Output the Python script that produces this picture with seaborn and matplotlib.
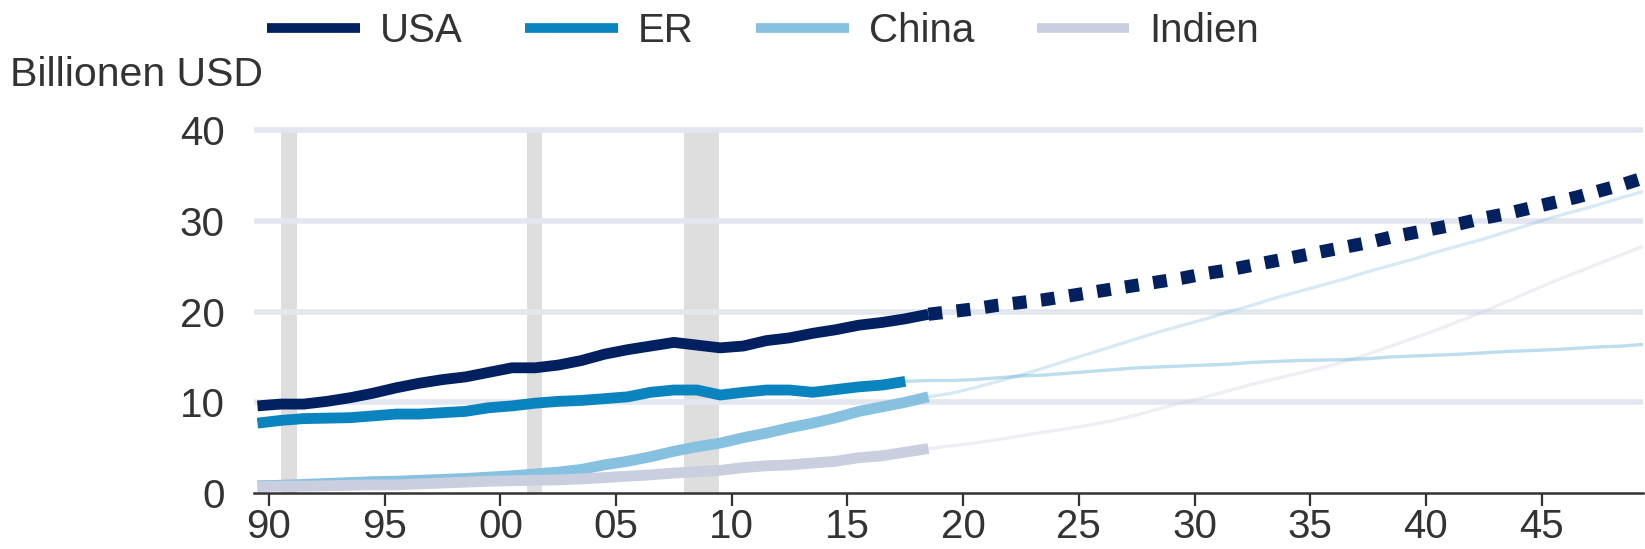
import numpy as np
import pandas as pd
import seaborn as sns
import matplotlib.pyplot as plt
from matplotlib.lines import Line2D

# history, annual values plotted mid-year
hist_years = list(range(1989, 2019))
usa = [9.6, 9.8, 9.8, 10.1, 10.5, 11.0, 11.6, 12.1, 12.5, 12.8,
       13.3, 13.8, 13.8, 14.1, 14.6, 15.3, 15.8, 16.2, 16.6, 16.3,
       16.0, 16.2, 16.8, 17.1, 17.6, 18.0, 18.5, 18.8, 19.2, 19.7]
er = [7.7, 8.0, 8.2, 8.25, 8.3, 8.5, 8.7, 8.7, 8.85, 9.0,
      9.4, 9.6, 9.9, 10.1, 10.2, 10.4, 10.6, 11.1, 11.35, 11.35,
      10.8, 11.1, 11.35, 11.35, 11.1, 11.4, 11.7, 11.9, 12.3]
china = [0.8, 0.85, 0.95, 1.05, 1.15, 1.25, 1.3, 1.4, 1.5, 1.6,
         1.75, 1.9, 2.1, 2.3, 2.6, 3.1, 3.5, 4.0, 4.6, 5.1,
         5.5, 6.1, 6.6, 7.2, 7.7, 8.3, 9.0, 9.5, 10.0, 10.6]
indien = [0.7, 0.75, 0.75, 0.8, 0.85, 0.9, 0.9, 1.0, 1.1, 1.2,
          1.3, 1.35, 1.4, 1.45, 1.55, 1.7, 1.85, 2.0, 2.2, 2.35,
          2.5, 2.8, 3.0, 3.1, 3.3, 3.5, 3.9, 4.1, 4.5, 4.9]

# projections
proj_years = list(range(2018, 2050))
usa_proj = [19.7, 20.0, 20.3, 20.7, 21.0, 21.3, 21.7, 22.1, 22.5, 22.9,
            23.3, 23.7, 24.2, 24.6, 25.1, 25.6, 26.1, 26.6, 27.1, 27.6,
            28.2, 28.7, 29.2, 29.7, 30.3, 30.8, 31.4, 32.0, 32.6, 33.3,
            34.0, 34.8]
er_proj_years = list(range(2017, 2050))
er_proj = [12.3, 12.4, 12.4, 12.5, 12.7, 12.9, 13.0, 13.2, 13.4, 13.6,
           13.8, 13.9, 14.0, 14.1, 14.2, 14.4, 14.5, 14.6, 14.65, 14.7,
           14.8, 15.0, 15.1, 15.2, 15.3, 15.45, 15.6, 15.7, 15.8, 15.95,
           16.1, 16.2, 16.4]
china_proj = [10.6, 11.0, 11.6, 12.3, 13.0, 13.8, 14.6, 15.4, 16.2, 17.0,
              17.8, 18.5, 19.2, 20.0, 20.7, 21.5, 22.2, 22.9, 23.6, 24.4,
              25.1, 25.8, 26.6, 27.3, 28.0, 28.8, 29.6, 30.4, 31.1, 31.8,
              32.6, 33.3]
indien_proj = [4.9, 5.2, 5.5, 5.9, 6.3, 6.7, 7.1, 7.5, 8.0, 8.6,
               9.3, 10.0, 10.6, 11.3, 12.0, 12.6, 13.2, 13.8, 14.5, 15.3,
               16.2, 17.1, 18.0, 19.0, 20.0, 21.1, 22.2, 23.3, 24.3, 25.3,
               26.3, 27.3]

recessions = [(1990.5, 1991.2), (2001.15, 2001.8), (2007.95, 2009.45)]
names = ["USA", "ER", "China", "Indien"]
colors = {"USA": "#002060", "ER": "#0A84BF", "China": "#86C1DF", "Indien": "#CACFDF"}
x_ticks = list(range(1990, 2050, 5))
x_labels = ["90", "95", "00", "05", "10", "15", "20", "25", "30", "35", "40", "45"]
y_ticks = [0, 10, 20, 30, 40]

sns.set_theme(style="white")
plt.rcParams['font.family'] = ['Liberation Sans', 'DejaVu Sans']
txt = "#333333"

fig = plt.figure(figsize=(16.45, 5.49), dpi=100)
ax = fig.add_axes([0.1544, 0.102, 0.8446, 0.666])

# recession shading
for a, b in recessions:
    ax.fill_between([a, b], 0, 40, color="#DEDEDE", lw=0, zorder=0)

# grid lines
for y in y_ticks[1:]:
    ax.axhline(y, color="#E2E6EE", lw=4, zorder=0.5)

hist = {"USA": usa, "ER": er, "China": china, "Indien": indien}
proj = {"ER": (er_proj_years, er_proj), "China": (proj_years, china_proj),
        "Indien": (proj_years, indien_proj)}
alphas = {"ER": 0.27, "China": 0.33, "Indien": 0.33}

# faint projections
for n in ["Indien", "China", "ER"]:
    yrs, vals = proj[n]
    df = pd.DataFrame({"x": np.array(yrs) + 0.5, "y": vals})
    sns.lineplot(data=df, x="x", y="y", ax=ax, color=colors[n], lw=2.4,
                 alpha=alphas[n], zorder=2)

# history lines
for n in ["China", "Indien", "ER", "USA"]:
    vals = hist[n]
    df = pd.DataFrame({"x": np.array(hist_years[:len(vals)]) + 0.5, "y": vals})
    sns.lineplot(data=df, x="x", y="y", ax=ax, color=colors[n], lw=7.8,
                 solid_capstyle="butt", solid_joinstyle="round", zorder=3)

# USA projection, dotted
df = pd.DataFrame({"x": np.array(proj_years) + 0.5, "y": usa_proj})
sns.lineplot(data=df, x="x", y="y", ax=ax, color=colors["USA"], lw=9.5,
             linestyle=(0, (1.05, 1.1)), dash_capstyle="butt", zorder=4)

ax.set_xlim(1989.35, 2049.4)
ax.set_ylim(0, 40.3)
ax.set_xticks(x_ticks)
ax.set_xticklabels(x_labels)
ax.set_yticks(y_ticks)
ax.set_xlabel("")
ax.set_ylabel("")
ax.tick_params(axis="x", length=9.5, width=1.6, color=txt, pad=1.5, labelsize=29, labelcolor=txt, bottom=True)
ax.tick_params(axis="y", length=0, pad=21, labelsize=29, labelcolor=txt)
for s in ["top", "right", "left"]:
    ax.spines[s].set_visible(False)
ax.spines["bottom"].set_color(txt)
ax.spines["bottom"].set_linewidth(1.8)
ax.spines["bottom"].set_zorder(5)

fig.text(0.006, 0.843, "Billionen USD", fontsize=29.5, color=txt, va="baseline", ha="left")

handles = [Line2D([], [], color=colors[n], lw=7, solid_capstyle="butt") for n in names]
fig.legend(handles, names, loc="center", bbox_to_anchor=(0.464, 0.943), ncol=4,
           frameon=False, fontsize=29, handlelength=2.3, handletextpad=0.5,
           columnspacing=1.55, labelcolor=txt)

fig.savefig("out.png", dpi=100)
